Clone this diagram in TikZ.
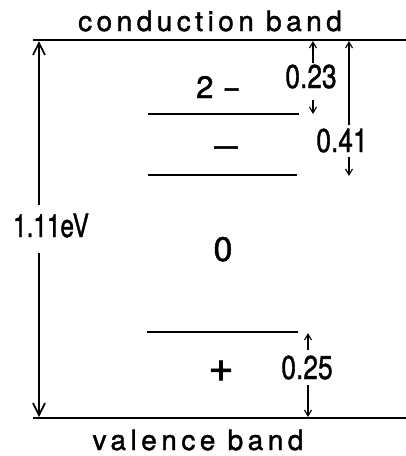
\documentclass[tikz,border=0pt]{standalone}
\usepackage{fontspec}
\setmainfont[FakeBold=1.4]{TeX Gyre Heros}
\newfontfamily\spacedfont[LetterSpace=16,FakeBold=1.4]{TeX Gyre Heros}
\usetikzlibrary{arrows.meta}
\tikzset{
  band/.style={line width=2pt},
  level/.style={line width=2pt},
  bigarrow/.style={line width=1.7pt,-{Straight Barb[length=12pt,width=12pt,line width=1.7pt]}},
  smallarrow/.style={line width=1.1pt,-{Straight Barb[length=6pt,width=7pt,line width=1.1pt]}},
  bandlabel/.style={inner sep=0pt,anchor=base,font=\spacedfont\fontsize{28}{30}\selectfont},
  num/.style={inner sep=0pt,anchor=base,font=\fontsize{33}{35}\selectfont,xscale=0.8},
  charge/.style={inner sep=0pt,anchor=base,font=\fontsize{31}{33}\selectfont}
}
\begin{document}
\begin{tikzpicture}[x=1pt,y=-1pt]
\useasboundingbox (0,0) rectangle (406,456);
% band edges
\coordinate (cbL) at (33,40);
\coordinate (cbR) at (406,40);
\coordinate (vbL) at (33,418);
\coordinate (vbR) at (406,418);
\draw[band] (cbL) -- (cbR);
\draw[band] (vbL) -- (vbR);
\node[bandlabel] (cb) at (210,31) {conduction band};
\node[bandlabel] (vb) at (198,450) {valence band};
% gap arrow
\node[inner sep=0pt,anchor=base,font=\fontsize{32}{34}\selectfont,xscale=0.76] (gap) at (51,237) {1.11eV};
\coordinate (gTop) at (39,41);
\coordinate (gA) at (39,205);
\coordinate (gB) at (39,253);
\coordinate (gBot) at (39,417);
\draw[bigarrow] (gA) -- (gTop);
\draw[bigarrow] (gB) -- (gBot);
% levels
\coordinate (l1a) at (148,114); \coordinate (l1b) at (299,114);
\coordinate (l2a) at (148,175); \coordinate (l2b) at (297,175);
\coordinate (l3a) at (147,332); \coordinate (l3b) at (298,332);
\draw[level] (l1a) -- (l1b);
\draw[level] (l2a) -- (l2b);
\draw[level] (l3a) -- (l3b);
% charge states
\node[charge,anchor=base west] (s2m) at (196,98) {2\hspace{9pt}\scalebox{1.8}[1]{-}};
\node[charge,xscale=1.35] (s1m) at (226,156) {–};
\node[charge,font=\fontsize{34}{36}\selectfont,xscale=1.0] (s0) at (223,261) {0};
\node[charge,anchor=center,font=\fontsize{44}{46}\selectfont] (s1p) at (221,371) {+};
% 0.23
\node[num] (n23) at (311,88) {0.23};
\coordinate (a23t) at (313,41); \coordinate (a23u) at (313,63);
\coordinate (a23d) at (313,100); \coordinate (a23b) at (313,114);
\draw[smallarrow] (a23u) -- (a23t);
\draw[smallarrow] (a23d) -- (a23b);
% 0.41
\node[num] (n41) at (342,152) {0.41};
\coordinate (a41t) at (349,41); \coordinate (a41u) at (349,125);
\coordinate (a41d) at (349,157); \coordinate (a41b) at (349,176);
\draw[smallarrow] (a41u) -- (a41t);
\draw[smallarrow] (a41d) -- (a41b);
% 0.25
\node[num] (n25) at (307,379) {0.25};
\coordinate (a25t) at (308,333); \coordinate (a25u) at (308,350);
\coordinate (a25d) at (308,385); \coordinate (a25b) at (308,417);
\draw[smallarrow] (a25u) -- (a25t);
\draw[smallarrow] (a25d) -- (a25b);
\end{tikzpicture}
\end{document}
